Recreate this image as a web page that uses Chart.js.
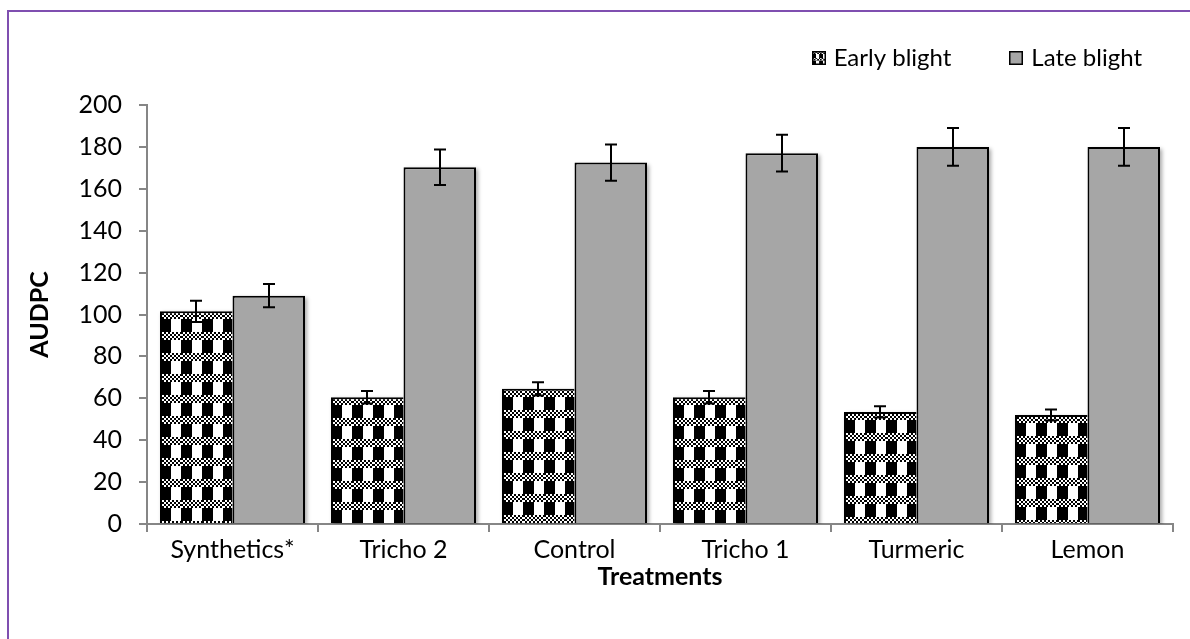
<!DOCTYPE html>
<html>
<head>
<meta charset="utf-8">
<script src="https://cdn.jsdelivr.net/npm/chart.js@4.4.1/dist/chart.umd.min.js"></script>
<style>
  html, body { margin: 0; padding: 0; background: #fff; overflow: hidden; }
  #wrap { position: relative; width: 1190px; height: 639px; overflow: hidden; }
  #frame { position: absolute; left: 7px; top: 10px; width: 1300px; height: 800px;
           border: 2px solid #7f4fb0; box-sizing: border-box; }
  #c { position: absolute; left: 0; top: 0; }
</style>
</head>
<body>
<div id="wrap">
  <div id="frame"></div>
  <canvas id="c" width="1190" height="639"></canvas>
</div>
<script>
// Treatments on the x axis
const categories = ['Synthetics*', 'Tricho 2', 'Control', 'Tricho 1', 'Turmeric', 'Lemon'];

// AUDPC values per treatment
const earlyBlight = [101.5, 60.5, 64.5, 60.5, 53.5, 52.0];
const lateBlight  = [109.0, 170.3, 172.5, 177.0, 180.0, 180.0];

// Error bar half-lengths
const earlyBlightErr = [5.1, 3.0, 3.2, 3.0, 2.7, 2.6];
const lateBlightErr  = [5.5, 8.5, 8.6, 8.8, 9.0, 9.0];

// Y axis tick values
const yTicks = [0, 20, 40, 60, 80, 100, 120, 140, 160, 180, 200];

const FONT = 'Lato';
const FONT_SIZE = 25;
const LEGEND_FONT_SIZE = 24;
const AXIS_GREY = '#868686';
const LATE_FILL = '#a6a6a6';

// Plaid tile: a fine checker band over alternating black and white columns
function makePlaidTile() {
  const t = document.createElement('canvas');
  t.width = 21; t.height = 21;
  const g = t.getContext('2d');
  g.fillStyle = '#fff';
  g.fillRect(0, 0, 21, 21);
  g.fillStyle = '#000';
  for (let y = 0; y < 8; y++) {
    for (let x = 0; x < 21; x++) {
      if (((x >> 1) + (y >> 1)) % 2 === 0) g.fillRect(x, y, 1, 1);
    }
  }
  g.fillRect(0, 8, 11, 13);
  return t;
}
const plaidTile = makePlaidTile();

function plaidAt(ctx, x, y, scale) {
  const p = ctx.createPattern(plaidTile, 'repeat');
  p.setTransform(new DOMMatrix([scale, 0, 0, scale, x, y]));
  return p;
}

// Anchor the plaid fill to the top-left corner of each bar
const plaidFill = {
  id: 'plaidFill',
  beforeDatasetsDraw(chart) {
    const meta = chart.getDatasetMeta(0);
    meta.data.forEach(el => {
      const { x, y, width } = el.getProps(['x', 'y', 'width'], true);
      el.options.backgroundColor = plaidAt(chart.ctx, Math.round(x - width / 2), Math.round(y), 1);
    });
  }
};

// Soft drop shadow behind every bar
const barShadow = {
  id: 'barShadow',
  beforeDatasetsDraw(chart) {
    const ctx = chart.ctx;
    ctx.save();
    ctx.beginPath();
    ctx.rect(chart.chartArea.left, 0, chart.width, chart.chartArea.bottom);
    ctx.clip();
    ctx.shadowColor = 'rgba(0,0,0,0.35)';
    ctx.shadowBlur = 4;
    ctx.shadowOffsetX = 2;
    ctx.shadowOffsetY = 2;
    ctx.fillStyle = '#fff';
    chart.data.datasets.forEach((ds, i) => {
      chart.getDatasetMeta(i).data.forEach(el => {
        const { x, y, base, width } = el.getProps(['x', 'y', 'base', 'width'], true);
        ctx.fillRect(x - width / 2, y, width, base - y);
      });
    });
    ctx.restore();
  }
};

// Vertical error bars with caps
const errorBars = {
  id: 'errorBars',
  afterDatasetsDraw(chart) {
    const ctx = chart.ctx;
    const ys = chart.scales.y;
    ctx.save();
    ctx.strokeStyle = '#000';
    ctx.lineWidth = 2;
    chart.data.datasets.forEach((ds, i) => {
      const meta = chart.getDatasetMeta(i);
      meta.data.forEach((el, j) => {
        const v = ds.data[j], e = ds.errorBars[j];
        const top = ys.getPixelForValue(v + e);
        const bot = ys.getPixelForValue(v - e);
        const x = Math.round(el.x);
        const cap = 6;
        ctx.beginPath();
        ctx.moveTo(x, top); ctx.lineTo(x, bot);
        ctx.moveTo(x - cap, top); ctx.lineTo(x + cap, top);
        ctx.moveTo(x - cap, bot); ctx.lineTo(x + cap, bot);
        ctx.stroke();
      });
    });
    ctx.restore();
  }
};

// Legend in the top-right corner, above the plot area
const cornerLegend = {
  id: 'cornerLegend',
  afterDraw(chart) {
    const ctx = chart.ctx;
    const box = 14, boxGap = 8, itemGap = 58;
    const right = chart.chartArea.right - 31;
    const midY = 58;
    ctx.save();
    ctx.font = LEGEND_FONT_SIZE + 'px ' + FONT;
    ctx.textBaseline = 'middle';
    ctx.textAlign = 'left';
    ctx.fillStyle = '#000';
    const items = chart.data.datasets.map((ds, i) => ({ ds, i, w: ctx.measureText(ds.label).width }));
    let x = right;
    const placed = [];
    for (let k = items.length - 1; k >= 0; k--) {
      const it = items[k];
      const textX = x - it.w;
      const boxX = textX - boxGap - box;
      placed.push({ ...it, textX, boxX });
      x = boxX - itemGap;
    }
    placed.forEach(it => {
      const bx = Math.round(it.boxX), by = Math.round(midY - box / 2);
      ctx.fillStyle = it.i === 0 ? plaidAt(ctx, bx, by, 0.35) : LATE_FILL;
      ctx.fillRect(bx, by, box, box);
      ctx.strokeStyle = '#000';
      ctx.lineWidth = 1.5;
      ctx.strokeRect(bx + 0.75, by + 0.75, box - 1.5, box - 1.5);
      ctx.fillStyle = '#000';
      ctx.fillText(it.ds.label, it.textX, midY);
    });
    ctx.restore();
  }
};

new Chart(document.getElementById('c'), {
  type: 'bar',
  data: {
    labels: categories,
    datasets: [
      {
        label: 'Early blight',
        data: earlyBlight,
        errorBars: earlyBlightErr,
        backgroundColor: () => '#ffffff',
        borderColor: '#000',
        borderWidth: { top: 2, left: 2, right: 0, bottom: 0 },
        borderSkipped: false
      },
      {
        label: 'Late blight',
        data: lateBlight,
        errorBars: lateBlightErr,
        backgroundColor: LATE_FILL,
        borderColor: '#000',
        borderWidth: { top: 2, left: 2, right: 2, bottom: 0 },
        borderSkipped: false
      }
    ]
  },
  options: {
    responsive: false,
    animation: false,
    devicePixelRatio: 1,
    layout: { padding: { top: 105, left: 0, right: 17, bottom: 0 } },
    datasets: { bar: { categoryPercentage: 0.848, barPercentage: 1 } },
    plugins: { legend: { display: false }, tooltip: { enabled: false } },
    scales: {
      x: {
        grid: { offset: true, drawOnChartArea: false, drawTicks: true, tickLength: 8, color: AXIS_GREY, lineWidth: 2 },
        border: { display: true, color: AXIS_GREY, width: 2 },
        ticks: { color: '#000', font: { family: FONT, size: FONT_SIZE }, padding: 3, maxRotation: 0 },
        title: {
          display: true, text: 'Treatments', color: '#000',
          font: { family: FONT, size: FONT_SIZE, weight: 'bold' },
          padding: { top: 0, bottom: 47 }
        },
        afterFit(s) { s.height = 115; }
      },
      y: {
        min: 0, max: 200,
        afterBuildTicks(s) { s.ticks = yTicks.map(v => ({ value: v })); },
        grid: { drawOnChartArea: false, drawTicks: true, tickLength: 8, color: AXIS_GREY, lineWidth: 2 },
        border: { display: true, color: AXIS_GREY, width: 2 },
        ticks: { color: '#000', font: { family: FONT, size: FONT_SIZE }, padding: 17 },
        title: {
          display: true, text: 'AUDPC', color: '#000',
          font: { family: FONT, size: FONT_SIZE, weight: 'bold' },
          padding: { top: 25, bottom: 0 }
        },
        afterFit(s) { s.width = 147; }
      }
    }
  },
  plugins: [barShadow, plaidFill, errorBars, cornerLegend]
});
</script>
</body>
</html>
